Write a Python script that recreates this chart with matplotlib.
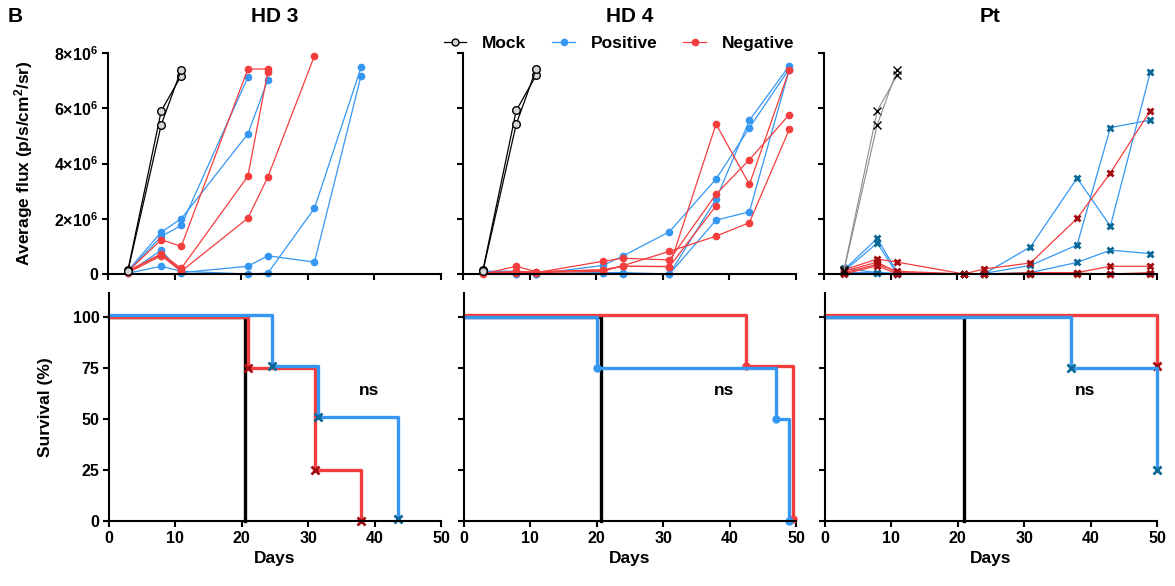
#!/usr/bin/env python3
import matplotlib
matplotlib.use("Agg")
import matplotlib.pyplot as plt
from matplotlib.lines import Line2D
from matplotlib.transforms import offset_copy

plt.rcParams["font.family"] = ["Liberation Sans", "DejaVu Sans"]
plt.rcParams["font.weight"] = "bold"
plt.rcParams["mathtext.fontset"] = "custom"
plt.rcParams["mathtext.rm"] = "Liberation Sans:bold"
plt.rcParams["mathtext.bf"] = "Liberation Sans:bold"
plt.rcParams["mathtext.it"] = "Liberation Sans:bold"

# imaging days shared by all groups (a mouse's list stops when it died)
days = [3, 8, 11, 21, 24, 31, 38, 43, 49]

# average flux, in units of 1e6 p/s/cm2/sr
hd3_mock = [[0.15, 5.91, 7.18], [0.12, 5.41, 7.40]]
hd3_pos = [
    [0.10, 1.36, 1.76, 7.12],
    [0.12, 1.52, 2.00, 5.07, 7.03],
    [0.05, 0.86, 0.05, 0.28, 0.66, 0.43, 7.18],
    [0.03, 0.28, 0.10, 0.00, 0.03, 2.38, 7.48],
]
hd3_neg = [
    [0.10, 1.24, 1.00, 7.42, 7.42],
    [0.08, 0.74, 0.20, 3.54, 7.33],
    [0.05, 0.66, 0.10, 2.02, 3.51, 7.90],
    [0.12, 0.70, 0.15],
]

hd4_mock = [[0.15, 5.92, 7.20], [0.12, 5.43, 7.43]]
hd4_pos = [
    [0.10, 0.10, 0.00, 0.31, 0.65, 1.53, 3.44, 5.29, 7.43],
    [0.08, 0.00, 0.00, 0.05, 0.05, 0.00, 2.71, 5.56, 7.54],
    [0.05, 0.00, 0.00, 0.03, 0.00, 0.00, 1.95, 2.25, 7.40],
    [0.10, 0.05, 0.00],
]
hd4_neg = [
    [0.00, 0.28, 0.08, 0.15, 0.28, 0.27, 5.43, 3.24, 7.39],
    [0.02, 0.10, 0.05, 0.46, 0.57, 0.51, 2.89, 4.14, 5.77],
    [0.05, 0.05, 0.05, 0.10, 0.30, 0.82, 1.37, 1.86, 5.24],
    [0.03, 0.08, 0.08, 0.15, 0.28, 0.27, 2.47],
]

pt_mock = [[0.15, 5.91, 7.20], [0.12, 5.41, 7.40]]
pt_pos = [
    [0.15, 1.29, 0.05, 0.00, 0.00, 0.98, 3.47, 1.73, 7.31],
    [0.10, 1.12, 0.00, 0.00, 0.02, 0.31, 1.05, 5.30, 5.57],
    [0.20, 0.05, 0.02, 0.00, 0.00, 0.05, 0.42, 0.86, 0.74],
    [0.05, 0.05, 0.00, 0.00, 0.00, 0.00],
]
pt_neg = [
    [0.15, 0.54, 0.43, 0.00, 0.18, 0.40, 2.01, 3.66, 5.91],
    [0.10, 0.43, 0.05, 0.00, 0.00, 0.05, 0.05, 0.28, 0.28],
    [0.05, 0.35, 0.10, 0.00, 0.00, 0.00, 0.03, 0.00, 0.05],
    [0.00, 0.30, 0.00, 0.00, 0.00, 0.00, 0.00, 0.00, 0.00],
]

# Kaplan-Meier steps: event day, percent surviving
hd3_mock_km = ([0, 20.5], [100, 0])
hd3_pos_km = ([0, 24.5, 31.5, 43.5], [100, 75, 50, 0])
hd3_neg_km = ([0, 21, 31, 38], [100, 75, 25, 0])
hd4_mock_km = ([0, 20.6], [100, 0])
hd4_pos_km = ([0, 20, 47, 49], [100, 75, 50, 0])
hd4_neg_km = ([0, 42.5, 49.5], [100, 75, 0])
pt_mock_km = ([0, 21], [100, 0])
pt_pos_km = ([0, 37, 50], [100, 75, 25])
pt_neg_km = ([0, 50], [100, 75])

titles = ["HD 3", "HD 4", "Pt"]
flux_ticks = [0, 2, 4, 6, 8]
flux_ticklabels = ["0"] + [r"$%d{\times}10^{6}$" % v for v in flux_ticks[1:]]
surv_ticks = [0, 25, 50, 75, 100]
day_ticks = [0, 10, 20, 30, 40, 50]

BLUE = "#3597f2"
RED = "#f43d3d"
DARK_BLUE = "#0c6997"
DARK_RED = "#a30d12"
MOCK_FACE = "#d6d6d6"

W, H = 1175, 586
fig = plt.figure(figsize=(W / 100, H / 100), dpi=100)


def px_axes(left, top, width, height):
    return fig.add_axes([left / W, 1 - (top + height) / H, width / W, height / H])


def style(ax):
    for side in ("top", "right"):
        ax.spines[side].set_visible(False)
    for side in ("left", "bottom"):
        ax.spines[side].set_linewidth(1.5)
    ax.tick_params(width=1.5, length=4.5, labelsize=11.5, pad=2.5)
    ax.set_xlim(0, 50)
    ax.set_xticks(day_ticks)


def flux_panel(ax, mock, pos, neg, crosses):
    scale = 1e6
    if crosses:
        mock_kw = dict(color="#8c8c8c", lw=0.8, marker="x", ms=5.5, mew=1.0, mec="black")
        pos_kw = dict(color=BLUE, lw=0.9, marker="x", ms=5, mew=2.0, mec=DARK_BLUE)
        neg_kw = dict(color=RED, lw=0.9, marker="x", ms=5, mew=2.0, mec=DARK_RED)
    else:
        mock_kw = dict(color="black", lw=0.9, marker="o", ms=5.5, mfc=MOCK_FACE, mec="black", mew=1.0)
        pos_kw = dict(color=BLUE, lw=0.9, marker="o", ms=4.5, mfc=BLUE, mec=BLUE)
        neg_kw = dict(color=RED, lw=0.9, marker="o", ms=4.5, mfc=RED, mec=RED)
    for vals in pos:
        ax.plot(days[:len(vals)], [v * scale for v in vals], clip_on=False, **pos_kw)
    for vals in neg:
        ax.plot(days[:len(vals)], [v * scale for v in vals], clip_on=False, **neg_kw)
    for vals in mock:
        ax.plot(days[:len(vals)], [v * scale for v in vals], clip_on=False, zorder=3, **mock_kw)
    ax.set_ylim(0, 8e6)
    ax.set_yticks([v * scale for v in flux_ticks])
    ax.set_xticklabels([])


def surv_panel(ax, mock, pos, neg, marker, raised):
    # GraphPad nudges one curve up a couple of pixels so overlaps stay visible
    up = offset_copy(ax.transData, fig=fig, y=2.5, units="dots")
    mk = dict(marker=marker, ms=5.5 if marker == "x" else 4, mew=2.0)
    ax.plot(mock[0], mock[1], drawstyle="steps-post", color="black", lw=2.4, clip_on=False)
    ax.plot(neg[0], neg[1], drawstyle="steps-post", color=RED, lw=2.4, clip_on=False,
            markevery=slice(1, None), mec=DARK_RED if marker == "x" else RED, mfc=RED,
            transform=up if raised == "neg" else ax.transData, **mk)
    ax.plot(pos[0], pos[1], drawstyle="steps-post", color=BLUE, lw=2.4, clip_on=False,
            markevery=slice(1, None), mec=DARK_BLUE if marker == "x" else BLUE, mfc=BLUE,
            transform=up if raised == "pos" else ax.transData, **mk)
    ax.set_ylim(0, 112)
    ax.set_yticks(surv_ticks)
    ax.set_xlabel("Days", fontsize=12.5, fontweight="bold", labelpad=4)
    ax.text(39.2, 64, "ns", fontsize=12.5, fontweight="bold", ha="center", va="center")


top_lefts = [108, 463, 824]
bot_lefts = [109, 464, 825]
flux_sets = [(hd3_mock, hd3_pos, hd3_neg, False),
             (hd4_mock, hd4_pos, hd4_neg, False),
             (pt_mock, pt_pos, pt_neg, True)]
surv_sets = [(hd3_mock_km, hd3_pos_km, hd3_neg_km, "x", "pos"),
             (hd4_mock_km, hd4_pos_km, hd4_neg_km, "o", "neg"),
             (pt_mock_km, pt_pos_km, pt_neg_km, "x", "neg")]

for i in range(3):
    ax_top = px_axes(top_lefts[i], 53, 333, 221)
    style(ax_top)
    flux_panel(ax_top, *flux_sets[i])
    ax_bot = px_axes(bot_lefts[i], 293, 332, 228)
    style(ax_bot)
    surv_panel(ax_bot, *surv_sets[i])
    fig.text((top_lefts[i] + 333 / 2) / W, 1 - 17 / H, titles[i],
             fontsize=15, fontweight="bold", ha="center", va="center")
    if i == 0:
        ax_top.set_yticklabels(flux_ticklabels)
        ax_top.set_ylabel(r"Average flux (p/s/cm$^{2}$/sr)", fontsize=12.5, fontweight="bold")
        ax_top.yaxis.set_label_coords(-0.22, 0.5)
        ax_bot.set_ylabel("Survival (%)", fontsize=12.5, fontweight="bold")
        ax_bot.yaxis.set_label_coords(-0.17, 0.5)
    else:
        ax_top.set_yticklabels([])
        ax_bot.set_yticklabels([])

fig.text(8 / W, 1 - 16 / H, "B", fontsize=15, fontweight="bold", ha="left", va="center")

handles = [
    Line2D([], [], color="black", lw=0.9, marker="o", ms=5, mfc=MOCK_FACE, mec="black"),
    Line2D([], [], color=BLUE, lw=0.9, marker="o", ms=4.5, mfc=BLUE, mec=BLUE),
    Line2D([], [], color=RED, lw=0.9, marker="o", ms=4.5, mfc=RED, mec=RED),
]
fig.legend(handles, ["Mock", "Positive", "Negative"], loc="center",
           bbox_to_anchor=(619 / W, 1 - 43 / H), ncol=3, frameon=False,
           prop=dict(size=12.5, weight="bold"), handlelength=1.3,
           handletextpad=0.9, columnspacing=1.5, borderaxespad=0)

fig.savefig("out.png", dpi=100)
plt.close(fig)
